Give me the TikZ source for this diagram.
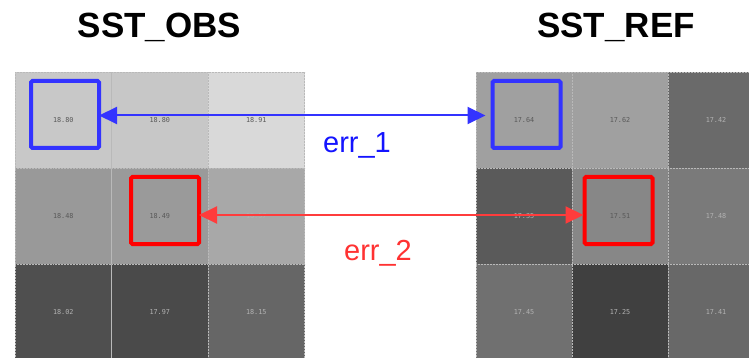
\documentclass[tikz,border=0pt]{standalone}
\usepackage{fontspec}
\setmainfont{Liberation Sans}
\newfontfamily\cellfont{DejaVu Sans Mono}
\usetikzlibrary{arrows.meta}
\definecolor{errblue}{RGB}{51,51,255}
\definecolor{errred}{RGB}{255,0,0}
\definecolor{arrred}{RGB}{255,60,60}
\definecolor{txtblue}{RGB}{20,20,255}
\definecolor{txtred}{RGB}{255,50,50}
\tikzset{
  cell/.style={draw=gray!55, densely dotted, line width=0.5pt, minimum width=96.5pt, minimum height=96pt, inner sep=0pt, font=\cellfont\fontsize{6.8}{7}\selectfont},
  dk/.style={text=black!65},
  lt/.style={text=black!30},
  title/.style={font=\fontsize{35}{40}\selectfont\bfseries, anchor=base},
  errlabel/.style={font=\fontsize{29}{32}\selectfont, anchor=base},
  bluebox/.style={draw=errblue, line width=4pt, rounded corners=1.5pt, minimum width=68pt, minimum height=67pt, inner sep=0pt},
  redbox/.style={draw=errred, line width=4pt, rounded corners=1.5pt, minimum width=68pt, minimum height=67pt, inner sep=0pt},
  blink/.style={errblue, line width=2pt, {Triangle[length=18pt,width=17pt]}-{Triangle[length=18pt,width=17pt]}},
  rlink/.style={arrred, line width=2pt, {Triangle[length=18pt,width=17pt]}-{Triangle[length=18pt,width=17pt]}}
}
\begin{document}
\begin{tikzpicture}[x=1pt,y=-1pt]
\useasboundingbox[fill=white] (0,0) rectangle (749,358);
% left grid
\node[cell,dk,fill={rgb,255:red,200;green,200;blue,200}] (o11) at (63.25,120) {18.80};
\node[cell,dk,fill={rgb,255:red,199;green,199;blue,199}] (o12) at (159.75,120) {18.80};
\node[cell,dk,fill={rgb,255:red,217;green,217;blue,217}] (o13) at (256.25,120) {18.91};
\node[cell,dk,fill={rgb,255:red,153;green,153;blue,153}] (o21) at (63.25,216) {18.48};
\node[cell,dk,fill={rgb,255:red,154;green,154;blue,154}] (o22) at (159.75,216) {18.49};
\node[cell,lt,fill={rgb,255:red,168;green,168;blue,168}] (o23) at (256.25,216) {18.57};
\node[cell,lt,fill={rgb,255:red,79;green,79;blue,79}] (o31) at (63.25,312) {18.02};
\node[cell,lt,fill={rgb,255:red,74;green,74;blue,74}] (o32) at (159.75,312) {17.97};
\node[cell,lt,fill={rgb,255:red,102;green,102;blue,102}] (o33) at (256.25,312) {18.15};
% right grid
\node[cell,dk,fill={rgb,255:red,160;green,160;blue,160}] (r11) at (524,120) {17.64};
\node[cell,dk,fill={rgb,255:red,160;green,160;blue,160}] (r12) at (620,120) {17.62};
\node[cell,lt,fill={rgb,255:red,106;green,106;blue,106}] (r13) at (716,120) {17.42};
\node[cell,lt,fill={rgb,255:red,90;green,90;blue,90}] (r21) at (524,216) {17.35};
\node[cell,dk,fill={rgb,255:red,135;green,135;blue,135}] (r22) at (620,216) {17.51};
\node[cell,lt,fill={rgb,255:red,122;green,122;blue,122}] (r23) at (716,216) {17.48};
\node[cell,lt,fill={rgb,255:red,112;green,112;blue,112}] (r31) at (524,312) {17.45};
\node[cell,lt,fill={rgb,255:red,64;green,64;blue,64}] (r32) at (620,312) {17.25};
\node[cell,lt,fill={rgb,255:red,104;green,104;blue,104}] (r33) at (716,312) {17.41};
% titles
\node[title] (tobs) at (159.5,38) {SST\_OBS};
\node[title] (tref) at (616,38) {SST\_REF};
% highlight boxes
\node[bluebox] (bl) at (65,114.5) {};
\node[bluebox] (br) at (526.5,114.5) {};
\node[redbox] (rl) at (165,210.5) {};
\node[redbox] (rr) at (618.5,210.5) {};
% arrows
\draw[blink, shorten <=-2pt, shorten >=5pt] ([yshift=-1pt]bl.east) -- ([yshift=-1pt]br.west);
\draw[rlink, shorten <=-2pt, shorten >=-1pt] ([yshift=-4.5pt]rl.east) -- ([yshift=-4.5pt]rr.west);
% labels
\node[errlabel, text=txtblue] (e1) at (357,153) {err\_1};
\node[errlabel, text=txtred] (e2) at (378,260) {err\_2};
\end{tikzpicture}
\end{document}
